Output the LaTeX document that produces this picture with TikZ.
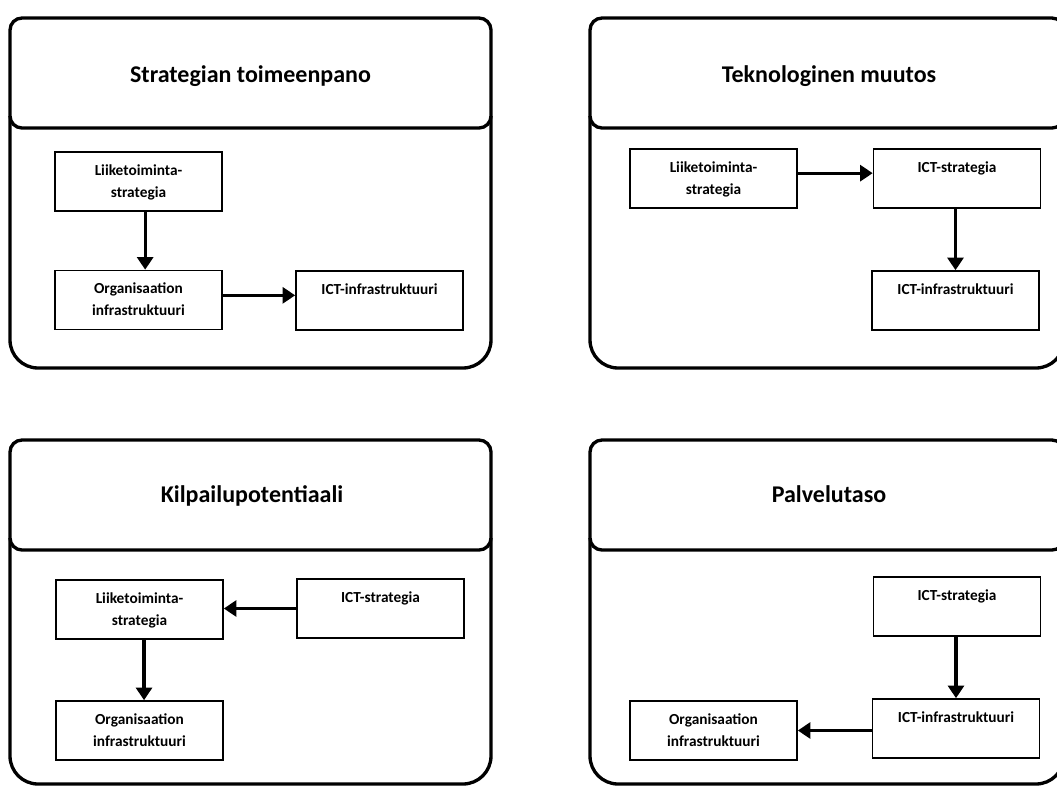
\documentclass[tikz,border=0pt]{standalone}
\usepackage{fontspec}
\setmainfont{Carlito}
\usetikzlibrary{arrows.meta}
\begin{document}
\begin{tikzpicture}[x=0.75pt,y=-0.75pt,
  frame/.style={line width=2.5pt,black},
  box/.style={draw=black,line width=1.2pt,rectangle,inner sep=0pt,
    minimum width=125.25pt,minimum height=44.25pt,
    text height=34.1pt,text depth=10.15pt,align=center,
    font=\fontsize{11.5}{16.5}\selectfont\bfseries},
  heading/.style={anchor=base,font=\fontsize{18}{22}\selectfont\bfseries},
  flow/.style={line width=2.4pt,-{Triangle[length=9.5pt,width=12pt]}}]
\useasboundingbox (0,0) rectangle (1057,786);
\clip (0,0) rectangle (1057,786);

% panel frames: rounded header plus body with large rounded bottom corners
\foreach \l/\r/\t/\h/\b in {10/491/18/128/368, 590/1064/18/128/368,
                            10/491/440/550/784, 590/1064/440/550/784}{
  \draw[frame,rounded corners=9pt] (\l,\t) rectangle (\r,\h);
  \draw[frame,rounded corners=21pt] (\l,\h-12) -- (\l,\b) -- (\r,\b) -- (\r,\h-12);
}

% Strategian toimeenpano
\node[heading] (t1) at (250.5,82) {Strategian toimeenpano};
\node[box] (p1a) at (138.5,181.5) {Liiketoiminta-\\strategia};
\node[box] (p1b) at (138.5,300) {Organisaation\\infrastruktuuri};
\node[box] (p1c) at (379.5,300.5) {ICT-infrastruktuuri\\~};
\draw[flow] ([xshift=5pt]p1a.south) -- ([xshift=5pt]p1b.north);
\draw[flow] ([yshift=3.5pt]p1b.east) -- ([yshift=3.5pt]p1b.east -| p1c.west);

% Teknologinen muutos
\node[heading] (t2) at (829,82) {Teknologinen muutos};
\node[box] (p2a) at (713.5,178.5) {Liiketoiminta-\\strategia};
\node[box] (p2b) at (957,178.5) {ICT-strategia\\~};
\node[box] (p2c) at (955.5,300.5) {ICT-infrastruktuuri\\~};
\draw[flow] ([yshift=4pt]p2a.east) -- ([yshift=4pt]p2b.west);
\draw[flow] (p2c.north |- p2b.south) -- (p2c.north);

% Kilpailupotentiaali
\node[heading] (t3) at (252,502) {Kilpailupotentiaali};
\node[box] (p3a) at (139.5,609.5) {Liiketoiminta-\\strategia};
\node[box] (p3b) at (380.5,608.5) {ICT-strategia\\~};
\node[box] (p3c) at (139.5,730.5) {Organisaation\\infrastruktuuri};
\draw[flow] (p3b.west) -- (p3b.west -| p3a.east);
\draw[flow] ([xshift=3.4pt]p3a.south) -- ([xshift=3.4pt]p3c.north);

% Palvelutaso
\node[heading] (t4) at (829,502) {Palvelutaso};
\node[box] (p4a) at (957,606.5) {ICT-strategia\\~};
\node[box] (p4b) at (956,728.5) {ICT-infrastruktuuri\\~};
\node[box] (p4c) at (713.5,730.5) {Organisaation\\infrastruktuuri};
\draw[flow] (p4b.north |- p4a.south) -- (p4b.north);
\draw[flow] ([yshift=-1.5pt]p4b.west) -- ([yshift=-1.5pt]p4b.west -| p4c.east);
\end{tikzpicture}
\end{document}
